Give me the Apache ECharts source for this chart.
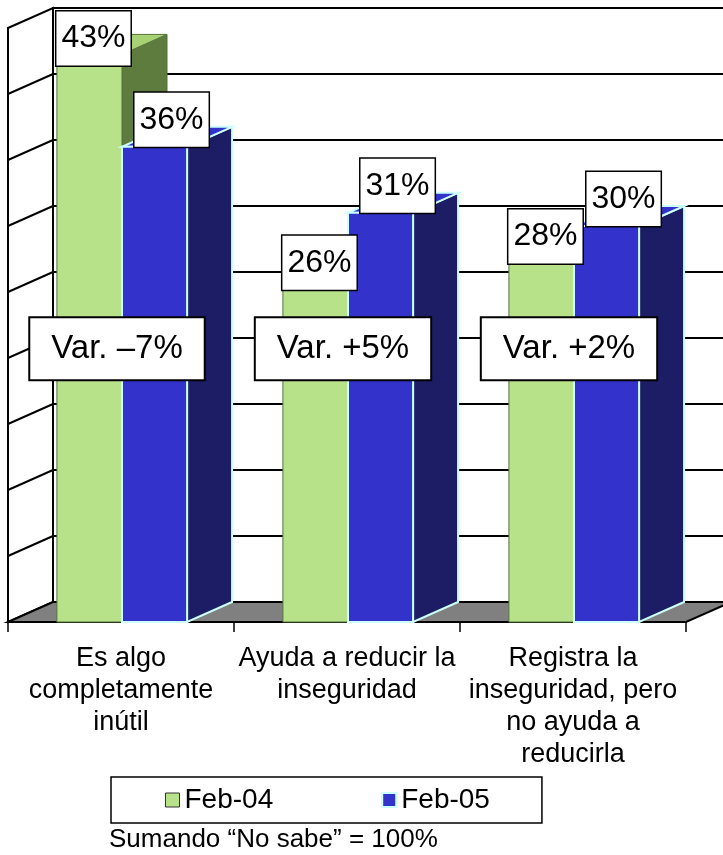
<!DOCTYPE html>
<html>
<head>
<meta charset="utf-8">
<script src="https://cdn.jsdelivr.net/npm/echarts@6/dist/echarts.min.js"></script>
<style>
  html, body { margin: 0; padding: 0; background: #fff; }
  #chart { width: 723px; height: 855px; }
</style>
</head>
<body>
<div id="chart"></div>
<script>
// data
const categories = [
  'Es algo\ncompletamente\ninútil',
  'Ayuda a reducir la\ninseguridad',
  'Registra la\ninseguridad, pero\nno ayuda a\nreducirla'
]
const feb04 = [43, 26, 28]
const feb05 = [36, 31, 30]
const seriesNames = ['Feb-04', 'Feb-05']
const yMax = 45
const yStep = 5
const footnote = 'Sumando “No sabe” = 100%'

// look
const FONT = '"Liberation Sans", Arial, sans-serif'
const DEPTH = [45, -20]
const BAR_RATIO = 0.288
const VAR_LEVEL = 20.7
const LABEL_OFF = [[4, -16], [17, -27]]
const faces = [
  { front: '#b8e28a', side: '#5e7c3e', top: '#a6d274', edge: '#55733a', lw: 1 },
  { front: '#3333cc', side: '#1d1d66', top: '#3333cc', edge: '#ccffff', lw: 2 }
]

const varText = (i) => {
  const d = feb05[i] - feb04[i]
  return 'Var. ' + (d < 0 ? '–' : '+') + Math.abs(d) + '%'
}

// back wall, left wall, floor
const renderWalls = (params, api) => {
  const cs = params.coordSys
  const [dx, dy] = DEPTH
  const x0 = cs.x, x1 = cs.x + cs.width
  const yt = cs.y, yb = cs.y + cs.height
  const line = { stroke: '#000', lineWidth: 2 }
  const kids = [
    { type: 'rect', shape: { x: x0 + dx, y: yt + dy, width: cs.width + 10, height: cs.height },
      style: { fill: '#fff', stroke: '#000', lineWidth: 2 } }
  ]
  for (let v = yStep; v < yMax; v += yStep) {
    const y = api.coord([0, v])[1]
    kids.push({ type: 'line', shape: { x1: x0 + dx, y1: y + dy, x2: x1 + dx + 10, y2: y + dy }, style: line })
  }
  kids.push({ type: 'polygon', shape: { points: [[x0, yt], [x0 + dx, yt + dy], [x0 + dx, yb + dy], [x0, yb]] },
    style: { fill: '#fff', stroke: '#000', lineWidth: 2 } })
  for (let v = yStep; v < yMax; v += yStep) {
    const y = api.coord([0, v])[1]
    kids.push({ type: 'line', shape: { x1: x0, y1: y, x2: x0 + dx, y2: y + dy }, style: line })
  }
  kids.push({ type: 'polygon', shape: { points: [[x0, yb], [x1, yb], [x1 + dx, yb + dy], [x0 + dx, yb + dy]] },
    style: { fill: '#808080', stroke: '#000', lineWidth: 2 } })
  return { type: 'group', children: kids }
}

// one 3D column
const barRenderer = (s) => (params, api) => {
  const j = api.value(0)
  const base = api.coord([j, 0])
  const top = api.coord([j, api.value(1)])
  const w = api.size([1, 0])[0] * BAR_RATIO
  const xl = base[0] + 1 - (s === 0 ? w : 0)
  const xr = xl + w
  const yb = base[1], yt = top[1]
  const [dx, dy] = DEPTH
  const f = faces[s]
  const st = (fill) => ({ fill, stroke: f.edge, lineWidth: f.lw })
  return {
    type: 'group',
    children: [
      { type: 'polygon', shape: { points: [[xr, yt], [xr + dx, yt + dy], [xr + dx, yb + dy], [xr, yb]] }, style: st(f.side) },
      { type: 'polygon', shape: { points: [[xl, yt], [xr, yt], [xr + dx, yt + dy], [xl + dx, yt + dy]] }, style: st(f.top) },
      { type: 'rect', shape: { x: xl, y: yt, width: w, height: yb - yt }, style: st(f.front) }
    ]
  }
}

// value boxes and "Var." boxes
const renderLabels = (params, api) => {
  const j = api.value(0)
  const w = api.size([1, 0])[0] * BAR_RATIO
  const kids = []
  for (let s = 0; s < 2; s++) {
    const p = api.coord([j, api.value(s + 1)])
    const cx = p[0] + 1 + (s === 0 ? -w / 2 : w / 2)
    kids.push({
      type: 'text', x: cx + LABEL_OFF[s][0], y: p[1] + LABEL_OFF[s][1],
      style: {
        text: api.value(s + 1) + '%', font: '32px ' + FONT, fill: '#000',
        align: 'center', verticalAlign: 'middle', lineHeight: 36,
        backgroundColor: '#fff', borderColor: '#000', borderWidth: 1.5, padding: [9, 5, 9, 5]
      }
    })
  }
  const c = api.coord([j, VAR_LEVEL])
  kids.push({
    type: 'text', x: c[0] - 4, y: c[1],
    style: {
      text: varText(j), font: '33px ' + FONT, fill: '#000',
      align: 'center', verticalAlign: 'middle', lineHeight: 37,
      backgroundColor: '#fff', borderColor: '#000', borderWidth: 2, padding: [12, 21, 12, 21]
    }
  })
  return { type: 'group', children: kids }
}

const chart = echarts.init(document.getElementById('chart'))
chart.setOption({
  animation: false,
  backgroundColor: '#fff',
  title: {
    text: footnote, left: 109, top: 827, padding: 0,
    textStyle: { fontSize: 26, fontWeight: 'normal', fontFamily: FONT, color: '#000' }
  },
  legend: {
    data: [
      { name: seriesNames[0], itemStyle: { color: faces[0].front, borderColor: '#333', borderWidth: 1 } },
      { name: seriesNames[1], itemStyle: { color: faces[1].front, borderColor: '#ccffff', borderWidth: 2 } }
    ],
    left: 111, top: 777,
    icon: 'rect', itemWidth: 14, itemHeight: 14, itemGap: 108,
    padding: [9, 52, 9, 54],
    borderColor: '#000', borderWidth: 1.5,
    selectedMode: false,
    textStyle: { fontSize: 28, lineHeight: 28, color: '#000', fontFamily: FONT }
  },
  grid: { left: 8, right: 37, top: 28, bottom: 233, containLabel: false },
  xAxis: {
    type: 'category',
    data: categories,
    axisLine: { lineStyle: { color: '#000', width: 2 } },
    axisTick: { show: true, length: 10, lineStyle: { color: '#000', width: 1.5 } },
    axisLabel: { interval: 0, fontSize: 27, lineHeight: 32, color: '#000', margin: 21, fontFamily: FONT }
  },
  yAxis: {
    type: 'value', min: 0, max: yMax, interval: yStep,
    axisLine: { show: false }, axisTick: { show: false },
    axisLabel: { show: false }, splitLine: { show: false }
  },
  series: [
    { type: 'custom', name: 'walls', z: 1, clip: false, renderItem: renderWalls, data: [[0, 0]] },
    { type: 'custom', name: seriesNames[0], z: 2, clip: false, renderItem: barRenderer(0),
      itemStyle: { color: faces[0].front }, encode: { x: 0, y: 1 },
      data: feb04.map((v, i) => [i, v]) },
    { type: 'custom', name: seriesNames[1], z: 3, clip: false, renderItem: barRenderer(1),
      itemStyle: { color: faces[1].front }, encode: { x: 0, y: 1 },
      data: feb05.map((v, i) => [i, v]) },
    { type: 'custom', name: 'labels', z: 5, clip: false, renderItem: renderLabels,
      encode: { x: 0, y: 1 },
      data: feb04.map((v, i) => [i, v, feb05[i]]) }
  ]
})
</script>
</body>
</html>
